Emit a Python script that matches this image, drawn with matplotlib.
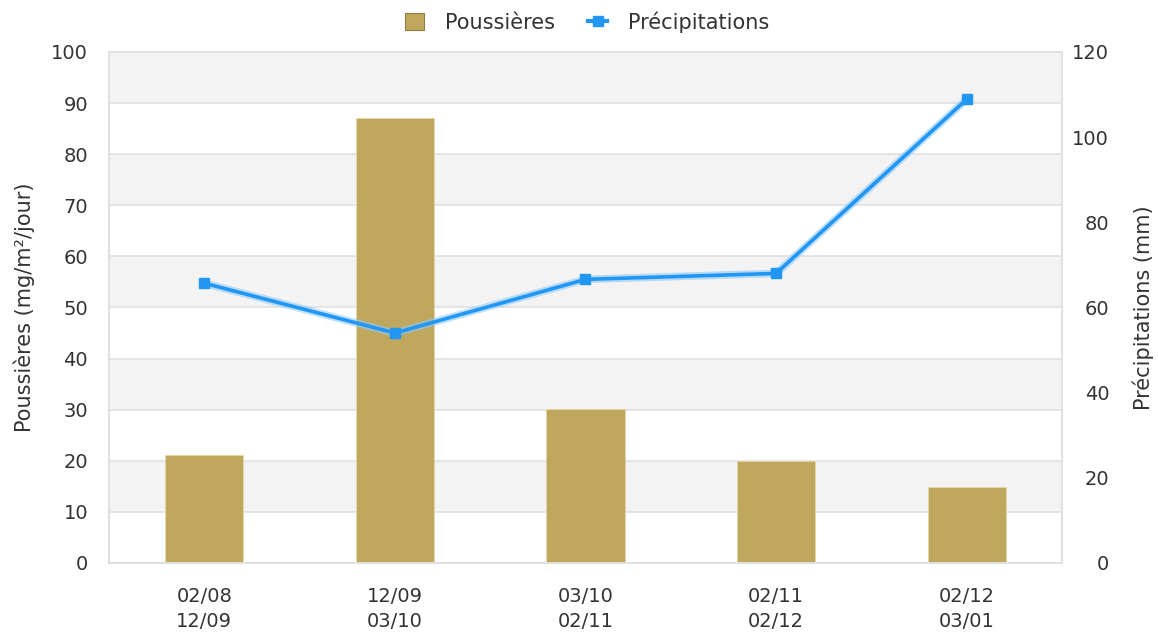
import matplotlib
matplotlib.use("Agg")
import matplotlib.pyplot as plt
from matplotlib.lines import Line2D
from matplotlib.patches import Patch

categories = ["02/08\n12/09", "12/09\n03/10", "03/10\n02/11", "02/11\n02/12", "02/12\n03/01"]
poussieres = [21.1, 87.1, 30.1, 20.0, 14.9]
precipitations = [65.7, 54.0, 66.6, 68.0, 108.9]

bar_color = "#BFA75E"
line_color = "#2196F3"
text_color = "#333333"

plt.rcParams["font.family"] = "DejaVu Sans"
fig = plt.figure(figsize=(11.58, 6.33), dpi=100)
ax = fig.add_axes([0.0941, 0.1106, 0.823, 0.8073])
x = list(range(len(categories)))

ax.set_xlim(-0.5, len(categories) - 0.5)
ax.set_ylim(0, 100)
for lo in range(10, 100, 20):
    ax.axhspan(lo, lo + 10, color="#F3F3F3", zorder=0, lw=0)
for v in range(0, 101, 10):
    ax.axhline(v, color="#E0E0E0", lw=1.2, zorder=1)
ax.bar(x, poussieres, width=0.41, color=bar_color, edgecolor="#E6D7A8", linewidth=0.6, zorder=2)

ax.set_yticks(range(0, 101, 10))
ax.set_xticks(x)
ax.set_xticklabels(categories, linespacing=1.45)
ax.tick_params(axis="y", length=0, labelsize=14, colors=text_color, pad=15)
ax.tick_params(axis="x", length=0, labelsize=14, colors=text_color, pad=17)
ax.set_ylabel("Poussières (mg/m²/jour)", fontsize=15, color=text_color, labelpad=12)
for s in ax.spines.values():
    s.set_color("#E0E0E0")
    s.set_linewidth(1.2)

ax2 = ax.twinx()
ax2.set_ylim(0, 120)
ax2.set_yticks(range(0, 121, 20))
ax2.plot(x, precipitations, color="#90CAF9", lw=5.5, alpha=0.6, zorder=3, solid_capstyle="butt")
ax2.plot(x, precipitations, color=line_color, lw=2.6, marker="s", markersize=6.5, zorder=4)
ax2.tick_params(axis="y", length=0, labelsize=14, colors=text_color, pad=34)
for lab in ax2.get_yticklabels():
    lab.set_horizontalalignment("right")
ax2.set_ylabel("Précipitations (mm)", fontsize=15, color=text_color, labelpad=17)
for s in ax2.spines.values():
    s.set_color("#E0E0E0")
    s.set_linewidth(1.2)

handles = [
    Patch(facecolor=bar_color, edgecolor="#8f7d45", linewidth=0.8),
    Line2D([0], [0], color=line_color, lw=3, marker="s", markersize=7),
]
fig.legend(handles, ["Poussières", "Précipitations"], loc="upper center",
           bbox_to_anchor=(0.507, 1.012), ncol=2, frameon=False, fontsize=15,
           handlelength=0.9, handleheight=0.85, columnspacing=1.6, handletextpad=1.0,
           labelcolor=text_color)

fig.savefig("out.png", dpi=100)
